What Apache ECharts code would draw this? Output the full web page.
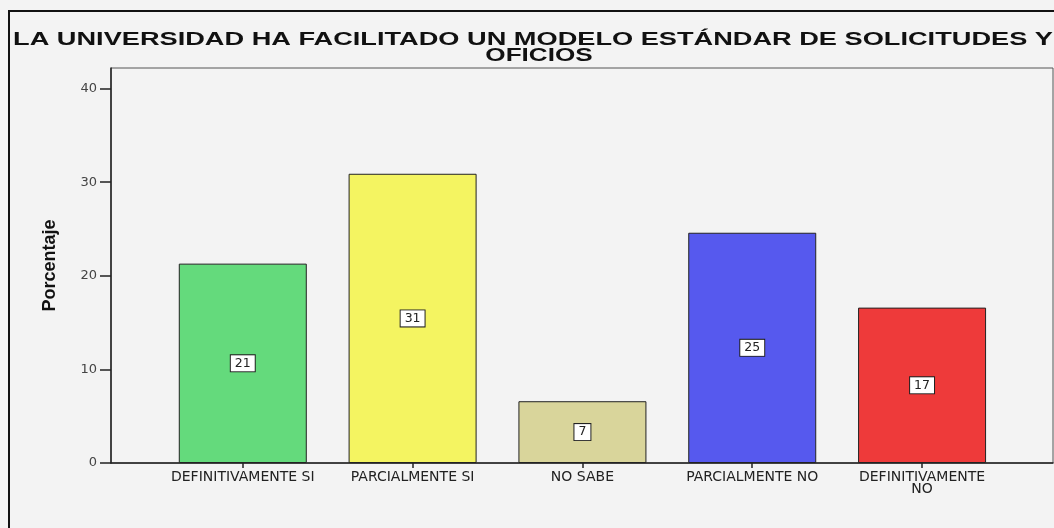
<!DOCTYPE html>
<html>
<head>
<meta charset="utf-8">
<script src="https://cdn.jsdelivr.net/npm/echarts@6/dist/echarts.min.js"></script>
<style>
  html, body { margin: 0; padding: 0; background: #f3f3f3; }
  #chart { width: 1054px; height: 528px; }
</style>
</head>
<body>
<div id="chart"></div>
<script>
// datos del gráfico
const categories = ["DEFINITIVAMENTE SI", "PARCIALMENTE SI", "NO SABE", "PARCIALMENTE NO", "DEFINITIVAMENTE\nNO"];
const values = [21.3, 30.9, 6.6, 24.6, 16.6];
const barColors = ["#64da7c", "#f4f461", "#d9d59b", "#5659ee", "#ee3a3a"];
const yTicks = [0, 10, 20, 30, 40];
const catIndex = [0, 1, 2, 3, 4];
const titleLines = ["LA UNIVERSIDAD HA FACILITADO UN MODELO ESTÁNDAR DE SOLICITUDES Y", "OFICIOS"];

const chart = echarts.init(document.getElementById("chart"));

const option = {
  backgroundColor: "#f3f3f3",
  animation: false,
  graphic: [
    {
      type: "rect",
      shape: { x: 9, y: 11, width: 1200, height: 700 },
      style: { fill: "none", stroke: "#111", lineWidth: 2 },
      silent: true,
    },
    {
      type: "text",
      x: 533,
      y: 40,
      scaleX: 1.51,
      style: {
        text: titleLines[0],
        textAlign: "center",
        textVerticalAlign: "middle",
        font: "bold 18px 'Liberation Sans', Arial, sans-serif",
        fill: "#111",
      },
    },
    {
      type: "text",
      x: 539,
      y: 56,
      scaleX: 1.45,
      style: {
        text: titleLines[1],
        textAlign: "center",
        textVerticalAlign: "middle",
        font: "bold 18px 'Liberation Sans', Arial, sans-serif",
        fill: "#111",
      },
    },
  ],
  grid: {
    left: 111,
    top: 68,
    right: 1,
    bottom: 65,
    show: true,
    borderColor: "#555",
    borderWidth: 1,
    backgroundColor: "transparent",
  },
  xAxis: {
    type: "value",
    min: -0.776,
    max: 4.771,
    splitLine: { show: false },
    axisLine: { show: true, onZero: false, lineStyle: { color: "#222", width: 1.5 } },
    axisTick: {
      show: true,
      customValues: catIndex,
      length: 5,
      lineStyle: { color: "#222", width: 1.5 },
    },
    axisLabel: {
      customValues: catIndex,
      formatter: (v) => categories[Math.round(v)],
      margin: 8,
      color: "#222",
      fontFamily: "DejaVu Sans",
      fontSize: 14,
      lineHeight: 12,
    },
  },
  yAxis: {
    type: "value",
    min: 0,
    max: 42.2,
    name: "Porcentaje",
    nameLocation: "middle",
    nameRotate: 90,
    nameGap: 52,
    nameTextStyle: {
      fontFamily: "'Liberation Sans Narrow', 'Liberation Sans', sans-serif",
      fontWeight: "bold",
      fontSize: 18,
      color: "#111",
    },
    splitLine: { show: false },
    axisLine: { show: true, onZero: false, lineStyle: { color: "#222", width: 1.5 } },
    axisTick: {
      show: true,
      customValues: yTicks,
      length: 11,
      lineStyle: { color: "#222", width: 1.5 },
    },
    axisLabel: {
      customValues: yTicks,
      margin: 14,
      color: "#444",
      fontFamily: "DejaVu Sans",
      fontSize: 13,
    },
  },
  series: [
    {
      type: "bar",
      barWidth: 128,
      data: values.map((v, i) => ({
        value: [i, v],
        itemStyle: { color: barColors[i] },
      })),
      itemStyle: { borderColor: "#222", borderWidth: 1 },
      label: {
        show: true,
        position: "inside",
        formatter: (p) => String(Math.round(p.value[1])),
        color: "#222",
        fontFamily: "DejaVu Sans",
        fontSize: 12.5,
        backgroundColor: "#fff",
        borderColor: "#222",
        borderWidth: 1,
        padding: [2, 4, 1, 4],
      },
    },
  ],
};

chart.setOption(option);
</script>
</body>
</html>
